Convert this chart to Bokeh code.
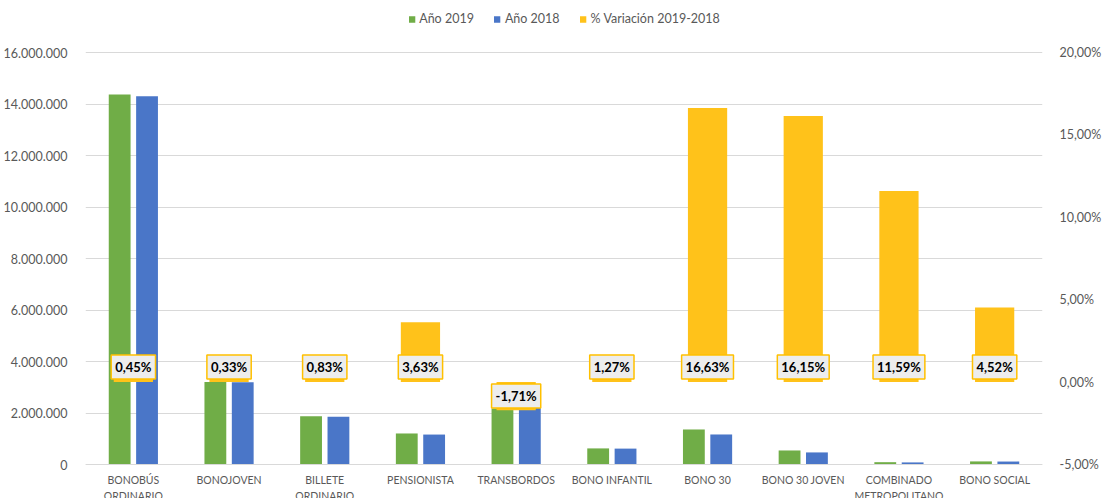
from bokeh.plotting import figure
from bokeh.models import (Range1d, LinearAxis, FixedTicker, ColumnDataSource,
                          Legend, LegendItem, Span)
from bokeh.core.properties import value
from bokeh.embed import file_html
from bokeh.resources import INLINE

categories = ["BONOBÚS\nORDINARIO", "BONOJOVEN", "BILLETE\nORDINARIO", "PENSIONISTA",
              "TRANSBORDOS", "BONO INFANTIL", "BONO 30", "BONO 30 JOVEN",
              "COMBINADO\nMETROPOLITANO", "BONO SOCIAL"]
y2019 = [14370000, 3200000, 1870000, 1205000, 2170000, 625000, 1360000, 545000, 90000, 120000]
y2018 = [14305000, 3190000, 1855000, 1163000, 2208000, 617000, 1166000, 469000, 81000, 115000]
pct = [0.45, 0.33, 0.83, 3.63, -1.71, 1.27, 16.63, 16.15, 11.59, 4.52]
left_ticks = [0, 2000000, 4000000, 6000000, 8000000, 10000000, 12000000, 14000000, 16000000]
right_ticks = [-5, 0, 5, 10, 15, 20]

FONT = "Lato"
GREY = "#595959"

idx = [i + 0.5 for i in range(len(categories))]
src = ColumnDataSource(dict(
    x=idx,
    xg=[v - 0.143 for v in idx],
    xb=[v + 0.143 for v in idx],
    y19=y2019, y18=y2018, pct=pct,
    zero=[0] * len(idx),
    lab=[("%.2f" % v).replace(".", ",") + "%" for v in pct],
    yoff=[-15 if v >= 0 else 14 for v in pct],
    cat=categories,
))

# frame spans the full figure height; gridlines and ticks stop at 0..16M / -5..20%
p = figure(width=1104, height=498, x_range=Range1d(0, 10),
           y_range=Range1d(-1320400, 18020000),
           output_backend="svg", toolbar_location=None,
           min_border_left=84, min_border_right=54, min_border_top=0, min_border_bottom=0)
p.extra_y_ranges = {"pct": Range1d(-7.063, 23.155)}
p.outline_line_color = None
p.background_fill_color = "white"
p.border_fill_color = "white"

p.yaxis.ticker = FixedTicker(ticks=left_ticks)
p.yaxis.major_label_overrides = {t: "{:,}".format(t).replace(",", ".") for t in left_ticks}
p.yaxis.axis_line_color = None
p.yaxis.major_tick_line_color = None
p.yaxis.minor_tick_line_color = None
p.yaxis.major_label_standoff = 12
p.yaxis.major_label_text_font = FONT
p.yaxis.major_label_text_font_size = "12.5px"
p.yaxis.major_label_text_color = GREY

ra = LinearAxis(y_range_name="pct", ticker=FixedTicker(ticks=right_ticks))
ra.major_label_overrides = {t: ("%.2f" % t).replace(".", ",") + "%" for t in right_ticks}
ra.axis_line_color = None
ra.major_tick_line_color = None
ra.minor_tick_line_color = None
ra.major_label_standoff = 11
ra.major_label_text_font = FONT
ra.major_label_text_font_size = "12.5px"
ra.major_label_text_color = GREY
p.add_layout(ra, "right")

p.xaxis.visible = False
p.xgrid.visible = False
p.ygrid.ticker = FixedTicker(ticks=left_ticks)
p.ygrid.grid_line_color = "#d9d9d9"
p.ygrid.grid_line_width = 1
p.add_layout(Span(location=0, dimension="width", line_color="#d9d9d9", line_width=1))

g = p.vbar(x="xg", top="y19", bottom=0, width=0.228, source=src,
           fill_color="#70ad47", line_color=None)
b = p.vbar(x="xb", top="y18", bottom=0, width=0.228, source=src,
           fill_color="#4a76c8", line_color=None)
yb = p.vbar(x="x", top="pct", bottom=0, width=0.41, source=src, y_range_name="pct",
            fill_color="#ffc21a", line_color=None)

p.text(x="x", y="zero", text="lab", y_offset="yoff", source=src, y_range_name="pct",
       text_align="center", text_baseline="middle", text_font=value(FONT),
       text_font_style="bold", text_font_size="13px", text_color="black",
       background_fill_color="#ededed", border_line_color="#ffc000",
       border_line_width=1.5, padding=(4, 4))

# category labels below the zero line
p.text(x="x", y="zero", text="cat", y_offset=9, source=src,
       text_align="center", text_baseline="top", text_font=value(FONT),
       text_font_size="10.5px", text_color=GREY, text_line_height=1.35)

legend = Legend(items=[LegendItem(label="Año 2019", renderers=[g]),
                       LegendItem(label="Año 2018", renderers=[b]),
                       LegendItem(label="% Variación 2019-2018", renderers=[yb])],
                orientation="horizontal", location="top_center",
                padding=0, margin=11, spacing=19, label_standoff=4,
                glyph_width=8, glyph_height=8, label_height=14,
                label_text_font=FONT, label_text_font_size="12.5px",
                label_text_color=GREY, border_line_color=None,
                background_fill_alpha=0)
p.add_layout(legend, "center")

open("out.html", "w").write(file_html(p, INLINE))
